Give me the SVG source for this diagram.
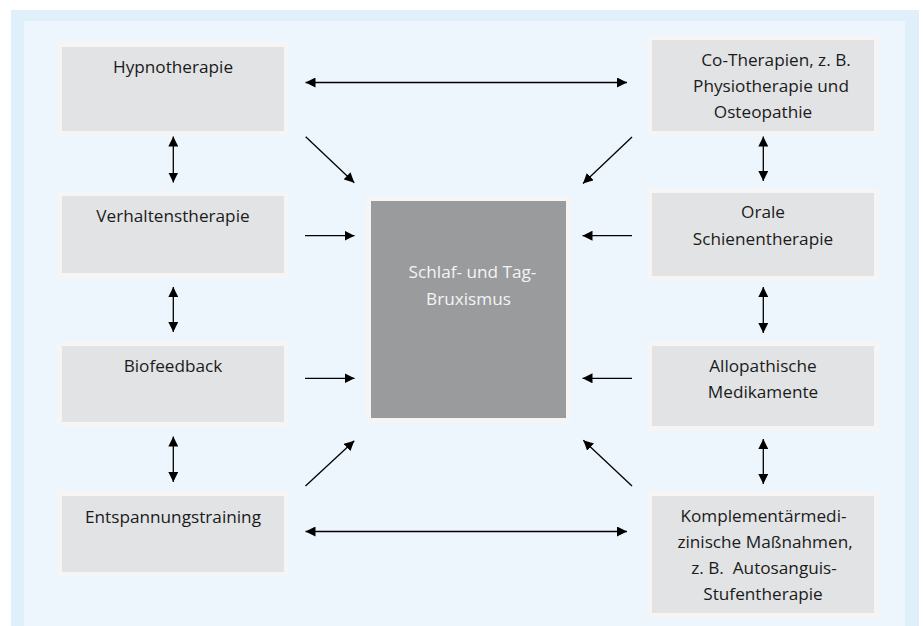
<svg xmlns="http://www.w3.org/2000/svg" width="923" height="626" viewBox="0 0 923 626">
<defs>
<style>
.frame{fill:#dff0fa}
.panel{fill:#eef6fd}
.rim{fill:#f5f5f5}
.box{fill:#e2e3e5}
.core{fill:#9a9b9d}
text{font-family:"Open Sans","Noto Sans",sans-serif;font-size:17.2px;fill:#1b1b1b;text-anchor:middle}
.light{fill:#f4f4f4}
.c{stroke:#000;stroke-width:1.3;fill:none;marker-end:url(#ah)}
.d{marker-start:url(#ah)}
</style>
<marker id="ah" viewBox="0 0 10 10" refX="10" refY="5" markerWidth="10" markerHeight="10" markerUnits="userSpaceOnUse" orient="auto-start-reverse">
<path d="M0,0 L10,5 L0,10 z" fill="#000"/>
</marker>
</defs>
<rect width="923" height="626" fill="#fff"/>
<rect class="frame" x="11" y="10" width="908" height="616"/>
<rect class="panel" x="24" y="21" width="881" height="605"/>

<g id="hypnotherapie">
<rect class="rim" x="57" y="42" width="232" height="94"/>
<rect class="box" x="62" y="47" width="222" height="84"/>
<text x="173" y="73">Hypnotherapie</text>
</g>
<g id="verhaltenstherapie">
<rect class="rim" x="57" y="191" width="232" height="87"/>
<rect class="box" x="62" y="196" width="222" height="77"/>
<text x="173" y="222">Verhaltenstherapie</text>
</g>
<g id="biofeedback">
<rect class="rim" x="57" y="341" width="232" height="86"/>
<rect class="box" x="62" y="346" width="222" height="76"/>
<text x="173" y="372">Biofeedback</text>
</g>
<g id="entspannungstraining">
<rect class="rim" x="57" y="491" width="232" height="86"/>
<rect class="box" x="62" y="496" width="222" height="76"/>
<text x="173" y="522.5">Entspannungstraining</text>
</g>

<g id="co-therapien">
<rect class="rim" x="647" y="35" width="232" height="101"/>
<rect class="box" x="652" y="40" width="222" height="91"/>
<text x="776" y="66">Co-Therapien, z. B.</text>
<text x="771" y="92">Physiotherapie und</text>
<text x="763" y="118">Osteopathie</text>
</g>
<g id="orale-schienentherapie">
<rect class="rim" x="647" y="188" width="232" height="93"/>
<rect class="box" x="652" y="193" width="222" height="83"/>
<text x="763" y="218">Orale</text>
<text x="763" y="245">Schienentherapie</text>
</g>
<g id="allopathische-medikamente">
<rect class="rim" x="647" y="341" width="232" height="90"/>
<rect class="box" x="652" y="346" width="222" height="80"/>
<text x="763" y="372">Allopathische</text>
<text x="763" y="397.5">Medikamente</text>
</g>
<g id="komplementaermedizin">
<rect class="rim" x="647" y="491" width="232" height="127"/>
<rect class="box" x="652" y="496" width="222" height="117"/>
<text x="763.5" y="522">Komplementärmedi-</text>
<text x="765" y="548">zinische Maßnahmen,</text>
<text x="764" y="574" style="white-space:pre">z. B.  Autosanguis-</text>
<text x="763" y="600">Stufentherapie</text>
</g>

<g id="bruxismus">
<rect class="rim" x="366" y="196" width="205" height="227"/>
<rect class="core" x="371" y="201" width="195" height="217"/>
<text class="light" x="472.5" y="278">Schlaf- und Tag-</text>
<text class="light" x="468.5" y="305">Bruxismus</text>
</g>

<g id="connectors">
<line class="c d" x1="305.5" y1="82.5" x2="627" y2="82.5"/>
<line class="c d" x1="305.5" y1="531.5" x2="627" y2="531.5"/>
<line class="c d" x1="173.3" y1="136.5" x2="173.3" y2="182.5"/>
<line class="c d" x1="173.3" y1="287" x2="173.3" y2="332"/>
<line class="c d" x1="173.3" y1="436.5" x2="173.3" y2="482"/>
<line class="c d" x1="763.3" y1="136.5" x2="763.3" y2="181"/>
<line class="c d" x1="763.3" y1="287" x2="763.3" y2="333"/>
<line class="c d" x1="763.3" y1="439" x2="763.3" y2="484"/>
<line class="c" x1="305" y1="235.7" x2="354.5" y2="235.7"/>
<line class="c" x1="305" y1="378.3" x2="354.5" y2="378.3"/>
<line class="c" x1="632" y1="235.7" x2="582.5" y2="235.7"/>
<line class="c" x1="632" y1="378.3" x2="582.5" y2="378.3"/>
<line class="c" x1="305.7" y1="136.7" x2="354.3" y2="182.7"/>
<line class="c" x1="632" y1="137" x2="583" y2="183.5"/>
<line class="c" x1="305.5" y1="486" x2="354.3" y2="440.7"/>
<line class="c" x1="632" y1="486" x2="583.3" y2="440.3"/>
</g>
</svg>
